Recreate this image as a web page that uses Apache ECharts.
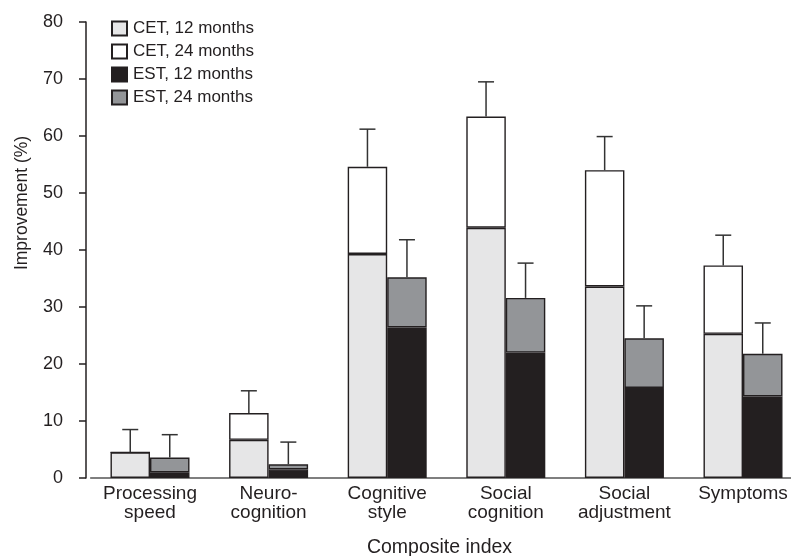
<!DOCTYPE html>
<html>
<head>
<meta charset="utf-8">
<script src="https://cdn.jsdelivr.net/npm/echarts@6/dist/echarts.min.js"></script>
<style>html,body{margin:0;padding:0;background:#fff}#c{width:791px;height:556px}</style>
</head>
<body>
<div id="c"></div>
<script>
const categories = ['Processing\nspeed', 'Neuro-\ncognition', 'Cognitive\nstyle', 'Social\ncognition', 'Social\nadjustment', 'Symptoms'];
const cet12 = [4.5, 6.7, 39.3, 43.9, 33.6, 25.3];
const cet24 = [4.5, 11.4, 54.6, 63.4, 54.0, 37.3];
const cetErrTop = [8.5, 15.3, 61.2, 69.5, 59.9, 42.6];
const est12 = [1.0, 1.5, 26.4, 22.0, 15.8, 14.3];
const est24 = [3.6, 2.4, 35.2, 31.6, 24.5, 21.8];
const estErrTop = [7.6, 6.3, 41.8, 37.7, 30.2, 27.2];
const yTicks = [0, 10, 20, 30, 40, 50, 60, 70, 80];

const ink = '#231f20';
const FONT = 'Liberation Sans, Arial, Helvetica, sans-serif';
const BW = 39.5;

const chart = echarts.init(document.getElementById('c'), null, {renderer: 'canvas'});

function errSeries(tops, errs, side) {
  return {
    type: 'custom',
    silent: true,
    z: 5,
    data: tops.map((t, i) => [i, t, errs[i]]),
    renderItem: function (params, api) {
      const b = api.coord([api.value(0), api.value(1)]);
      const e = api.coord([api.value(0), api.value(2)]);
      const x = b[0] + side * BW / 2;
      const st = {stroke: '#333', lineWidth: 1.5};
      return {
        type: 'group',
        children: [
          {type: 'line', shape: {x1: x, y1: b[1], x2: x, y2: e[1]}, style: st},
          {type: 'line', shape: {x1: x - 8, y1: e[1], x2: x + 8, y2: e[1]}, style: st}
        ]
      };
    }
  };
}

const barStyle = (c) => ({color: c, borderColor: ink, borderWidth: 1.4});

chart.setOption({
  animation: false,
  textStyle: {fontFamily: FONT, color: ink},
  grid: {left: 90.7, width: 711.6, top: 22, bottom: 78, containLabel: false, outerBoundsMode: 'none'},
  legend: {
    orient: 'vertical', left: 111, top: 20, padding: 0,
    itemWidth: 15, itemHeight: 14, itemGap: 6,
    textStyle: {fontFamily: FONT, fontSize: 17, color: ink, padding: [0, 0, 0, 1]},
    icon: 'rect',
    data: ['CET, 12 months', 'CET, 24 months', 'EST, 12 months', 'EST, 24 months']
  },
  xAxis: {
    type: 'category',
    data: categories,
    name: 'Composite index',
    nameLocation: 'middle',
    nameGap: 60,
    nameTextStyle: {fontFamily: FONT, fontSize: 19.5, color: ink, padding: [0, 14, 0, 0]},
    axisLine: {lineStyle: {color: '#555', width: 1.5}},
    axisTick: {show: false},
    axisLabel: {fontFamily: FONT, fontSize: 19, color: ink, lineHeight: 19, margin: 6, interval: 0}
  },
  yAxis: {
    type: 'value',
    min: 0, max: 80, interval: 10,
    offset: 4.7,
    name: 'Improvement (%)',
    nameLocation: 'middle',
    nameGap: 55,
    nameTextStyle: {fontFamily: FONT, fontSize: 17.5, color: ink, padding: [0, 0, 0, 94]},
    axisLine: {show: true, lineStyle: {color: ink, width: 1.5}},
    axisTick: {show: true, length: 7, lineStyle: {color: ink, width: 1.5}},
    axisLabel: {fontFamily: FONT, fontSize: 18, color: ink, margin: 23,
      formatter: (v) => yTicks.includes(v) ? String(v) : ''},
    splitLine: {show: false}
  },
  series: [
    {name: 'CET, 12 months', type: 'bar', stack: 'cet', barWidth: BW, barGap: '0%',
      itemStyle: barStyle('#e6e6e7'), data: cet12},
    {name: 'CET, 24 months', type: 'bar', stack: 'cet', barWidth: BW, barGap: '0%',
      itemStyle: barStyle('#ffffff'), data: cet24.map((v, i) => +(v - cet12[i]).toFixed(2))},
    {name: 'EST, 12 months', type: 'bar', stack: 'est', barWidth: BW, barGap: '0%',
      itemStyle: barStyle(ink), data: est12},
    {name: 'EST, 24 months', type: 'bar', stack: 'est', barWidth: BW, barGap: '0%',
      itemStyle: barStyle('#939598'), data: est24.map((v, i) => +(v - est12[i]).toFixed(2))},
    errSeries(cet24, cetErrTop, -1),
    errSeries(est24, estErrTop, 1)
  ]
});
</script>
</body>
</html>
